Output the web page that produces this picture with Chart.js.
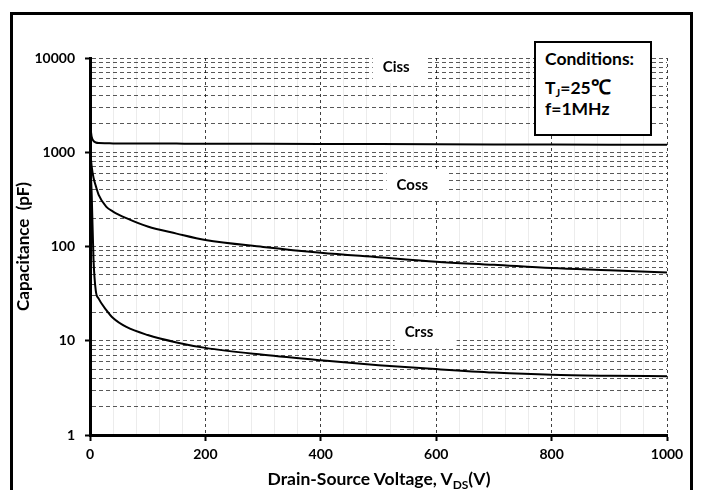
<!DOCTYPE html>
<html>
<head>
<meta charset="utf-8">
<script src="https://cdn.jsdelivr.net/npm/chart.js@4/dist/chart.umd.min.js"></script>
<style>
  html, body { margin: 0; padding: 0; background: #fff; overflow: hidden; }
  #wrap { position: relative; width: 702px; height: 490px; font-family: Lato, "Open Sans", sans-serif; }
  #frame { position: absolute; left: 10px; top: 12px; width: 683px; height: 520px; border: 3px solid #000; box-sizing: border-box; }
  #chart { position: absolute; left: 0; top: 0; }
  #cond { position: absolute; left: 534px; top: 41px; width: 118px; height: 95px; border: 2px solid #000; box-sizing: border-box; background: #fff; }
  #cond div { position: absolute; left: 9px; font-weight: bold; font-size: 17.5px; line-height: 20px; white-space: nowrap; color: #000; }
  #cond .deg { font-size: 20px; }
  .sub { font-size: 11px; position: relative; top: 3px; }
  #xtitle { position: absolute; left: 379px; top: 469px; transform: translateX(-50%); font-weight: bold; font-size: 17.5px; line-height: 20px; white-space: nowrap; color: #000; }
  #xtitle .sub { font-size: 12px; top: 4px; }
</style>
</head>
<body>
<div id="wrap">
  <div id="frame"></div>
  <canvas id="chart" width="702" height="490"></canvas>
  <div id="cond">
    <div style="top:6px">Conditions:</div>
    <div style="top:33px">T<span class="sub">J</span>=25<span class="deg">℃</span></div>
    <div style="top:56px">f=1MHz</div>
  </div>
  <div id="xtitle">Drain-Source Voltage, V<span class="sub">DS</span>(V)</div>
</div>
<script>
// drain-source voltage (V) sample points, shared by the three curves
const vds  = [0, 3, 6, 10, 15, 28, 40, 63, 100, 150, 200, 300, 400, 500, 600, 700, 800, 900, 1000];
// capacitances in pF
const ciss = [2000, 1450, 1320, 1270, 1250, 1245, 1242, 1240, 1238, 1235, 1232, 1228, 1224, 1220, 1216, 1212, 1208, 1204, 1200];
const coss = [1100, 700, 540, 440, 353, 265, 235, 200, 163, 137, 117, 99, 86, 77, 69, 64, 59, 56, 53];
const crss = [900, 350, 75, 34, 28, 21.3, 17.4, 14, 11.5, 9.6, 8.4, 7.1, 6.2, 5.5, 5.0, 4.6, 4.35, 4.25, 4.2];

const xTickLabels = [0, 200, 400, 600, 800, 1000];
const yTickLabels = [1, 10, 100, 1000, 10000];

// grid positions: x every 40 V, y at every 1..9 x 10^n
const xGrid = [];
for (let v = 0; v <= 1000; v += 40) xGrid.push(v);
const yGrid = [];
yTickLabels.forEach((d, i) => {
  if (i === yTickLabels.length - 1) { yGrid.push(d); return; }
  for (let m = 1; m <= 9; m++) yGrid.push(d * m);
});

const curveLabels = [
  { text: 'Ciss', x: 490, y: 8000, w: 53 },
  { text: 'Coss', x: 514, y: 450, w: 61 },
  { text: 'Crss', x: 528, y: 12.2, w: 62 }
];

const labelFont = 'bold 15px Lato, "Open Sans", sans-serif';

const pts = arr => vds.map((v, i) => ({ x: v, y: arr[i] }));
const lineStyle = { borderColor: '#000', borderWidth: 2, pointRadius: 0, fill: false, cubicInterpolationMode: 'monotone' };

const isMajorX = v => v % 200 === 0;
const isMajorY = v => yTickLabels.includes(v);

const labelPlugin = {
  id: 'curveLabels',
  afterDatasetsDraw(chart) {
    const c = chart.ctx;
    const xs = chart.scales.x, ys = chart.scales.y;
    c.save();
    c.font = labelFont;
    c.textBaseline = 'middle';
    c.textAlign = 'left';
    curveLabels.forEach(l => {
      const px = xs.getPixelForValue(l.x);
      const py = ys.getPixelForValue(l.y);
      c.fillStyle = '#fff';
      c.fillRect(px, py - 16, l.w, 32);
      c.fillStyle = '#000';
      c.fillText(l.text, px + 10, py);
    });
    c.restore();
  }
};

new Chart(document.getElementById('chart'), {
  type: 'line',
  data: {
    datasets: [
      Object.assign({ label: 'Ciss', data: pts(ciss) }, lineStyle),
      Object.assign({ label: 'Coss', data: pts(coss) }, lineStyle),
      Object.assign({ label: 'Crss', data: pts(crss) }, lineStyle)
    ]
  },
  options: {
    responsive: false,
    animation: false,
    devicePixelRatio: 1,
    layout: { padding: { left: 0, right: 35, top: 58, bottom: 0 } },
    plugins: { legend: { display: false }, tooltip: { enabled: false } },
    scales: {
      x: {
        type: 'linear',
        min: 0,
        max: 1000,
        afterBuildTicks: s => { s.ticks = xGrid.map(v => ({ value: v })); },
        afterFit: s => { s.height = 55; },
        ticks: {
          autoSkip: false,
          maxRotation: 0,
          padding: 5,
          color: '#000',
          font: { family: 'Lato', weight: 'bold', size: 14 },
          callback: v => xTickLabels.includes(v) ? String(v) : ''
        },
        grid: {
          lineWidth: 1,
          color: ctx => (ctx.tick && isMajorX(ctx.tick.value)) ? 'rgba(0,0,0,0.75)' : '#ececec',
          tickLength: 6,
          tickWidth: 2,
          tickColor: ctx => (ctx.tick && isMajorX(ctx.tick.value)) ? '#000' : 'rgba(0,0,0,0)'
        },
        border: {
          color: '#000',
          width: 3,
          dash: ctx => (ctx.tick && isMajorX(ctx.tick.value)) ? [3, 3] : []
        }
      },
      y: {
        type: 'logarithmic',
        min: 1,
        max: 10000,
        afterBuildTicks: s => { s.ticks = yGrid.map(v => ({ value: v })); },
        afterFit: s => { s.width = 90; },
        ticks: {
          autoSkip: false,
          padding: 10,
          color: '#000',
          font: { family: 'Lato', weight: 'bold', size: 14 },
          callback: v => isMajorY(v) ? String(v) : ''
        },
        grid: {
          lineWidth: 1,
          color: 'rgba(0,0,0,0.65)',
          tickLength: 5,
          tickWidth: 2,
          tickColor: ctx => (ctx.tick && isMajorY(ctx.tick.value)) ? '#000' : 'rgba(0,0,0,0)'
        },
        border: { color: '#000', width: 3, dash: [4, 3] },
        title: {
          display: true,
          text: 'Capacitance  (pF)',
          color: '#000',
          font: { family: 'Lato', weight: 'bold', size: 17 },
          padding: { top: 13, bottom: 0 }
        }
      }
    }
  },
  plugins: [labelPlugin]
});
</script>
</body>
</html>
